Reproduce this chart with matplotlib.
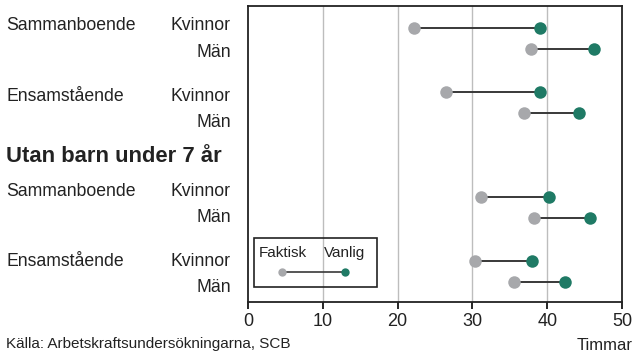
import matplotlib
matplotlib.use("Agg")
import matplotlib.pyplot as plt
from matplotlib.patches import Rectangle

FONT = ['Liberation Sans', 'DejaVu Sans']
plt.rcParams['font.family'] = FONT

groups = ["Sammanboende", "Ensamstående", "Sammanboende", "Ensamstående"]
sexes = ["Kvinnor", "Män"]
heading = "Utan barn under 7 år"
faktisk = [22.2, 37.8, 26.5, 36.9, 31.1, 38.3, 30.3, 35.6]
vanlig = [39.1, 46.3, 39.0, 44.3, 40.2, 45.7, 38.0, 42.4]
xticks = [0, 10, 20, 30, 40, 50]
legend_labels = ["Faktisk", "Vanlig"]
xlabel = "Timmar"
source = "Källa: Arbetskraftsundersökningarna, SCB"

rows = [0, 1, 3, 4, 8, 9, 11, 12]

# label baselines in figure pixels (from top)
label_base_px = [30.2, 56.8, 101, 127.3, 196, 222.3, 266, 292.3]
heading_base_px = 162.0

GRAY = "#a7a8ab"
GREEN = "#1f7a65"
TXT = "#222222"
W, H = 636, 352

fig = plt.figure(figsize=(6.36, 3.52), dpi=100)
ax = fig.add_axes([0.390, 0.142, 0.588, 0.841])
ax.set_xlim(0, 50)
ax.set_ylim(12.95, -1.05)

for x in xticks[1:-1]:
    ax.axvline(x, color="#bdbdbd", lw=1.0, zorder=0)

for r, f, v in zip(rows, faktisk, vanlig):
    ax.plot([f, v], [r, r], color="#383838", lw=1.4, zorder=2)
    ax.plot(f, r, "o", color=GRAY, ms=9, mec="none", zorder=3)
    ax.plot(v, r, "o", color=GREEN, ms=9, mec="none", zorder=3)

ax.set_xticks(xticks)
ax.set_xticklabels([str(t) for t in xticks], fontsize=13, color=TXT)
ax.set_yticks([])
ax.tick_params(axis='x', length=5, width=1.2, direction='out', pad=3)
for s in ax.spines.values():
    s.set_linewidth(1.3)
    s.set_color(TXT)

# left labels
for i, g in enumerate(groups):
    yb = label_base_px[2 * i]
    fig.text(6 / W, 1 - yb / H, g, ha="left", va="baseline", fontsize=12.7, color=TXT)
for i, yb in enumerate(label_base_px):
    fig.text(231 / W, 1 - yb / H, sexes[i % 2], ha="right", va="baseline", fontsize=12.7, color=TXT)
fig.text(6 / W, 1 - heading_base_px / H, heading, ha="left", va="baseline",
         fontsize=15.8, fontweight="bold", color=TXT)

# legend
leg_f, leg_v, leg_y = 4.6, 12.9, 11.54
ax.add_patch(Rectangle((0.8, 9.93), 16.4, 2.32, fill=False, ec=TXT, lw=1.2, zorder=4))
ax.plot([leg_f, leg_v], [leg_y, leg_y], color="#383838", lw=1.2, zorder=5)
ax.plot(leg_f, leg_y, "o", color=GRAY, ms=6, mec="none", zorder=6)
ax.plot(leg_v, leg_y, "o", color=GREEN, ms=6, mec="none", zorder=6)
ax.text(leg_f, 10.63, legend_labels[0], ha="center", va="center", fontsize=11, color=TXT, zorder=6)
ax.text(leg_v, 10.63, legend_labels[1], ha="center", va="center", fontsize=11, color=TXT, zorder=6)

fig.text(633 / W, 1 - 345 / H, xlabel, ha="right", va="center", fontsize=12, color=TXT)
fig.text(6 / W, 1 - 351 / H, source, ha="left", va="bottom", fontsize=11, color=TXT)

fig.savefig("out.png", dpi=100)
